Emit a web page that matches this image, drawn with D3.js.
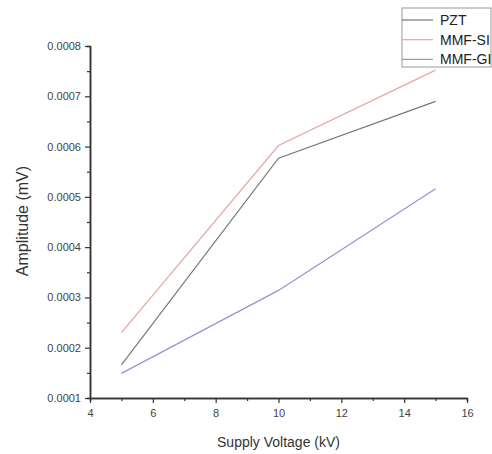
<!DOCTYPE html>
<html>
<head>
<meta charset="utf-8">
<script src="https://cdn.jsdelivr.net/npm/d3@7"></script>
<style>
  body { margin: 0; background: #fff; }
  text { font-family: "Liberation Sans", Arial, sans-serif; }
</style>
</head>
<body>
<script>
var voltage = [5, 10, 15];
var pzt = [0.000166, 0.000577, 0.00069];
var mmfSI = [0.00023, 0.000602, 0.000752];
var mmfGI = [0.000149, 0.000314, 0.000516];
var seriesNames = ["PZT", "MMF-SI", "MMF-GI"];
var seriesColors = ["#777777", "#e8a4a4", "#9494d4"];
var xTicks = [4, 6, 8, 10, 12, 14, 16];
var yTicks = [0.0001, 0.0002, 0.0003, 0.0004, 0.0005, 0.0006, 0.0007, 0.0008];

var margins = {
  top: 46,
  bottom: 56,
  left: 90,
  right: 25
};

var width = 492;
var height = 454;
var svg = d3.select("body").append("svg")
  .attr("width", width)
  .attr("height", height);

var xScale = d3.scaleLinear()
  .domain([4, 16])
  .range([margins.left, width - margins.right]);

var yScale = d3.scaleLinear()
  .domain([0.0001, 0.0008])
  .range([height - margins.bottom, margins.top]);

// minor ticks first so the major ones draw on top
var minorX = d3.axisBottom(xScale).tickValues([5, 7, 9, 11, 13, 15]).tickSize(3).tickFormat("");
var minorY = d3.axisLeft(yScale).tickValues([0.00015, 0.00025, 0.00035, 0.00045, 0.00055, 0.00065, 0.00075]).tickSize(3).tickFormat("");

svg.append("g")
  .attr("transform", "translate(0," + (height - margins.bottom) + ")")
  .call(minorX);
svg.append("g")
  .attr("transform", "translate(" + margins.left + ",0)")
  .call(minorY);

var xAxis = svg.append("g")
  .attr("transform", "translate(0," + (height - margins.bottom) + ")")
  .call(d3.axisBottom(xScale).tickValues(xTicks).tickSize(5).tickSizeOuter(0).tickPadding(6));

var yAxis = svg.append("g")
  .attr("transform", "translate(" + margins.left + ",0)")
  .call(d3.axisLeft(yScale).tickValues(yTicks).tickSize(5).tickSizeOuter(0).tickPadding(4)
    .tickFormat(d3.format(".4f")));

svg.selectAll(".domain").attr("stroke", "#333").attr("stroke-width", 1.5);
svg.selectAll(".tick line").attr("stroke", "#333").attr("stroke-width", 1.2);
svg.selectAll(".tick text")
  .attr("fill", "#444")
  .style("font-size", "11px")
  .style("font-family", "'Liberation Sans', Arial, sans-serif");

// axis titles
svg.append("text")
  .attr("x", (xScale(4) + xScale(16)) / 2)
  .attr("y", 447)
  .attr("text-anchor", "middle")
  .attr("fill", "#333")
  .style("font-size", "14px")
  .text("Supply Voltage (kV)");

svg.append("text")
  .attr("transform", "translate(28,221) rotate(-90)")
  .attr("text-anchor", "middle")
  .attr("fill", "#333")
  .style("font-size", "16px")
  .text("Amplitude (mV)");

// lines
var allSeries = [pzt, mmfSI, mmfGI];
var line = d3.line()
  .x(function(d, i) { return xScale(voltage[i]); })
  .y(function(d) { return yScale(d); });

svg.append("g")
  .selectAll("path.series")
  .data(allSeries)
  .enter()
  .append("path")
  .attr("class", "series")
  .attr("d", line)
  .attr("fill", "none")
  .attr("stroke", function(d, i) { return seriesColors[i]; })
  .attr("stroke-width", 1.2);

// legend
var legend = svg.append("g");
legend.append("rect")
  .attr("x", 402)
  .attr("y", 8)
  .attr("width", 89)
  .attr("height", 59)
  .attr("fill", "#fff")
  .attr("stroke", "#999")
  .attr("stroke-width", 1);

var entries = legend.selectAll("g.entry")
  .data(seriesNames)
  .enter()
  .append("g")
  .attr("class", "entry")
  .attr("transform", function(d, i) { return "translate(0," + (20 + i * 19.7) + ")"; });

entries.append("line")
  .attr("x1", 402)
  .attr("x2", 433)
  .attr("stroke", function(d, i) { return seriesColors[i]; })
  .attr("stroke-width", 1.2);

entries.append("text")
  .attr("x", 440)
  .attr("y", 5)
  .attr("fill", "#222")
  .style("font-size", "14px")
  .text(function(d) { return d; });
</script>
</body>
</html>
